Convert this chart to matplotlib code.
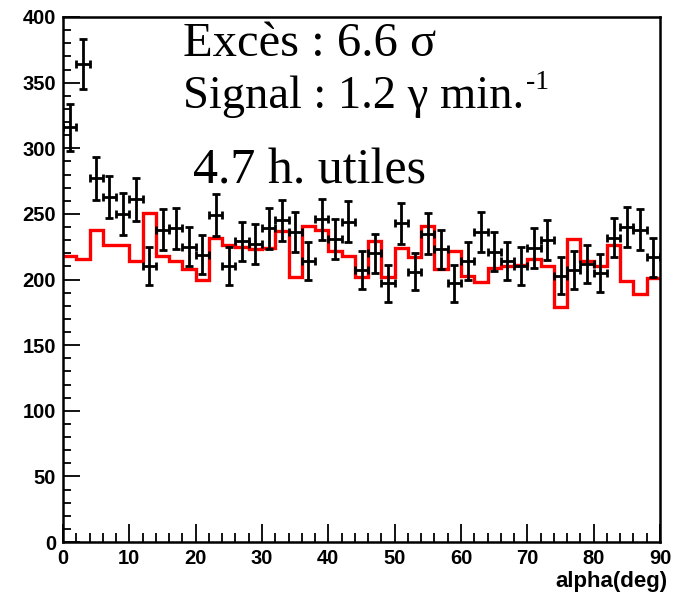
import numpy as np
import matplotlib
matplotlib.use("Agg")
import matplotlib.pyplot as plt

# ON counts per 2-degree alpha bin (bin centres 1, 3, ..., 89)
alpha_centres = np.arange(1, 90, 2)
on_counts = [316, 364, 277, 263, 250, 261, 210, 238, 239, 225,
             219, 249, 210, 229, 227, 239, 245, 236, 214, 246,
             231, 244, 207, 220, 197, 243, 206, 235, 223, 197,
             214, 236, 221, 214, 210, 224, 230, 203, 207, 212,
             205, 232, 240, 238, 217]

# OFF (background) histogram, same binning
alpha_edges = np.arange(0, 91, 2)
off_counts = [218, 216, 238, 226, 226, 214, 251, 218, 214, 208,
              200, 232, 226, 225, 223, 224, 237, 202, 241, 238,
              222, 218, 202, 229, 202, 224, 217, 241, 208, 222,
              203, 198, 209, 210, 211, 216, 210, 179, 231, 214,
              210, 226, 199, 189, 201]

annot_lines = ["Excès : 6.6 σ", "Signal : 1.2 γ min.", "4.7 h. utiles"]
annot_sup = "-1"

fig = plt.figure(figsize=(6.83, 5.96), dpi=100)
ax = fig.add_axes([63 / 683, 54 / 596, 597 / 683, 525 / 596])

ax.stairs(off_counts, alpha_edges, baseline=None, color="red", lw=2.4)

on = np.asarray(on_counts, dtype=float)
ax.errorbar(alpha_centres, on, yerr=np.sqrt(on), xerr=1.0, fmt="none",
            ecolor="black", elinewidth=2.0, capsize=3, capthick=2.0)

ax.set_xlim(0, 90)
ax.set_ylim(0, 400)
ax.set_xticks(np.arange(0, 91, 10))
ax.set_xticks(np.arange(0, 91, 2), minor=True)
ax.set_yticks(np.arange(0, 401, 50))
ax.set_yticks(np.arange(0, 401, 10), minor=True)
ax.tick_params(which="both", direction="in", top=False, right=False, width=1.3)
ax.tick_params(axis="x", which="major", length=13, pad=5)
ax.tick_params(axis="x", which="minor", length=6.5)
ax.tick_params(axis="y", which="major", length=12, pad=5)
ax.tick_params(axis="y", which="minor", length=6)
for lbl in ax.get_xticklabels() + ax.get_yticklabels():
    lbl.set_family("Liberation Sans")
    lbl.set_fontweight("bold")
    lbl.set_fontsize(14.5)
for sp in ax.spines.values():
    sp.set_linewidth(1.8)

fig.text(668 / 683, 1 - 581 / 596, "alpha(deg)", ha="right", va="center",
         family="Liberation Sans", fontweight="bold", fontsize=16)

serif = "Liberation Serif"
fig.text(183 / 683, 1 - 56 / 596, annot_lines[0], family=serif, fontsize=35,
         va="baseline")
sig = fig.text(183 / 683, 1 - 108 / 596, annot_lines[1], family=serif,
               fontsize=33.5, va="baseline")
ax.annotate(annot_sup, xy=(1, 0), xycoords=sig, xytext=(1, 21),
            textcoords="offset points", family=serif, fontsize=20,
            va="baseline", ha="left")
fig.text(193 / 683, 1 - 184 / 596, annot_lines[2], family=serif, fontsize=36,
         va="baseline")

fig.savefig("out.png", dpi=100)
